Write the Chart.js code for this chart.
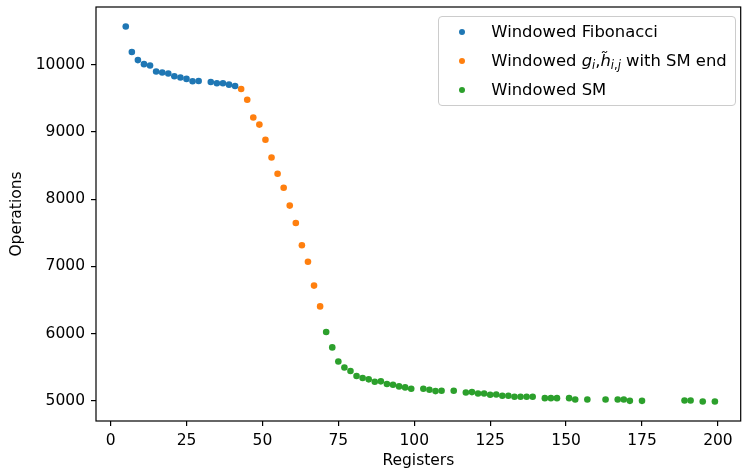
<!DOCTYPE html>
<html>
<head>
<meta charset="utf-8">
<script src="https://cdn.jsdelivr.net/npm/chart.js@4.4.1/dist/chart.umd.min.js"></script>
<style>
  html, body { margin: 0; padding: 0; background: #fff; }
  #wrap { position: relative; width: 744px; height: 471px; }
  #legend {
    position: absolute; background: rgba(255,255,255,0.8);
    border: 1px solid #cccccc; border-radius: 4px;
    font-family: "DejaVu Sans", sans-serif; font-size: 16.4px; color: #000;
    padding: 0 8px 1px 20px; box-sizing: border-box; white-space: nowrap;
  }
  #legend .row { height: 29px; display: flex; align-items: center; }
  #legend .dot { width: 6px; height: 6px; border-radius: 50%; display: inline-block; margin-right: 26px; flex: none; }
  #legend sub { font-size: 0.7em; vertical-align: -0.3em; line-height: 0; }
  #legend i { font-style: italic; }
</style>
</head>
<body>
<div id="wrap">
  <canvas id="c" width="744" height="471"></canvas>
  <div id="legend"></div>
</div>
<script>
// ---- data ----
const fibX = [5,7,9,11,13,15,17,19,21,23,25,27,29,33,35,37,39,41];
const fibY = [10570,10190,10070,10010,9990,9900,9885,9870,9830,9810,9790,9755,9760,9745,9725,9725,9705,9685];

const ghX = [43,45,47,49,51,53,55,57,59,61,63,65,67,69];
const ghY = [9640,9480,9215,9110,8885,8620,8380,8170,7905,7645,7315,7070,6715,6405];

const smX = [71,73,75,77,79,81,83,85,87,89,91,93,95,97,99,103,105,107,109,113,117,119,121,123,125,127,129,131,133,135,137,139,143,145,147,151,153,157,163,167,169,171,175,189,191,195,199];
const smY = [6025,5795,5585,5495,5445,5370,5340,5320,5285,5290,5250,5240,5215,5200,5180,5180,5165,5145,5150,5150,5125,5130,5110,5110,5090,5095,5075,5075,5060,5060,5060,5060,5040,5040,5040,5040,5020,5020,5020,5020,5020,5000,5000,5005,5005,4990,4990];

const xTicks = [0,25,50,75,100,125,150,175,200];
const yTicks = [5000,6000,7000,8000,9000,10000];

const seriesNames = ['Windowed Fibonacci', 'Windowed g_i,h~_i,j with SM end', 'Windowed SM'];
const seriesColors = ['#1f77b4', '#ff7f0e', '#2ca02c'];
const legendHTML = [
  'Windowed Fibonacci',
  'Windowed <i>g</i><sub><i>i</i></sub>,<i>h\u0303</i><sub><i>i</i>,<i>j</i></sub> with SM end',
  'Windowed SM'
];

const toPts = (xs, ys) => xs.map((x, i) => ({ x: x, y: ys[i] }));

const FONT = '"DejaVu Sans", sans-serif';

const framePlugin = {
  id: 'frame',
  afterDraw(chart) {
    const { ctx, chartArea: a } = chart;
    ctx.save();
    ctx.strokeStyle = '#000';
    ctx.lineWidth = 1.2;
    ctx.strokeRect(a.left, a.top, a.right - a.left, a.bottom - a.top);
    ctx.restore();
  }
};

const legendPlugin = {
  id: 'htmlLegend',
  afterRender(chart) {
    const el = document.getElementById('legend');
    if (!el.dataset.built) {
      el.innerHTML = legendHTML.map((t, i) =>
        '<div class="row"><span class="dot" style="background:' + seriesColors[i] + '"></span><span>' + t + '</span></div>'
      ).join('');
      el.dataset.built = '1';
    }
    const a = chart.chartArea;
    el.style.top = (a.top + 9) + 'px';
    el.style.right = (744 - a.right + 5) + 'px';
  }
};

new Chart(document.getElementById('c'), {
  type: 'scatter',
  data: {
    datasets: [
      { label: seriesNames[0], data: toPts(fibX, fibY), backgroundColor: seriesColors[0] },
      { label: seriesNames[1], data: toPts(ghX, ghY), backgroundColor: seriesColors[1] },
      { label: seriesNames[2], data: toPts(smX, smY), backgroundColor: seriesColors[2] }
    ]
  },
  options: {
    responsive: false,
    animation: false,
    devicePixelRatio: 1,
    layout: { padding: { left: 0, right: 3, top: 7, bottom: 0 } },
    elements: { point: { radius: 3.3, borderWidth: 0, hoverRadius: 3.3 } },
    plugins: { legend: { display: false }, tooltip: { enabled: false } },
    scales: {
      x: {
        type: 'linear', min: -4.8, max: 207.5,
        afterFit(s) { s.height = 50; s.paddingLeft = 0; s.paddingRight = 0; },
        afterBuildTicks(s) { s.ticks = xTicks.map(v => ({ value: v })); },
        grid: { display: true, drawOnChartArea: false, drawTicks: true, tickLength: 5, color: '#000', lineWidth: 1.2 },
        border: { display: false },
        ticks: { color: '#000', font: { family: FONT, size: 15.5 }, padding: 6, maxRotation: 0, callback: v => String(v) },
        title: { display: true, text: 'Registers', color: '#000', font: { family: FONT, size: 15.5 }, padding: { top: 0, bottom: 1 } }
      },
      y: {
        type: 'linear', min: 4700, max: 10860,
        afterFit(s) { s.width = 96; s.paddingTop = 0; s.paddingBottom = 0; },
        afterBuildTicks(s) { s.ticks = yTicks.map(v => ({ value: v })); },
        grid: { display: true, drawOnChartArea: false, drawTicks: true, tickLength: 5, color: '#000', lineWidth: 1.2 },
        border: { display: false },
        ticks: { color: '#000', font: { family: FONT, size: 15.5 }, padding: 6, callback: v => String(v) },
        title: { display: true, text: 'Operations', color: '#000', font: { family: FONT, size: 15.5 }, padding: { top: 8, bottom: 0 } }
      }
    }
  },
  plugins: [framePlugin, legendPlugin]
});
</script>
</body>
</html>
